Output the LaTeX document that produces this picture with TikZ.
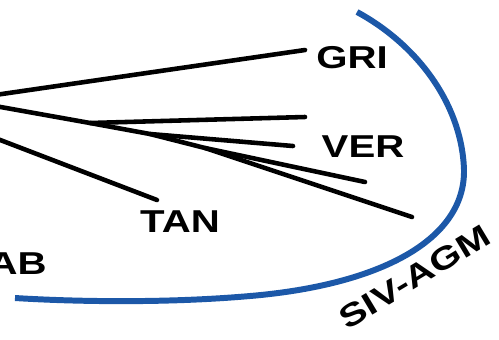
\documentclass[tikz,border=0pt]{standalone}
\usepackage{fontspec}
\setmainfont{Liberation Sans}
\definecolor{cladeblue}{RGB}{28,88,168}

\begin{document}
\begin{tikzpicture}[x=0.02cm,y=-0.02cm,
		branch/.style={line width=2.6pt,line cap=round},
		clade/.style={line width=3.4pt,draw=cladeblue},
		taxon/.style={font=\fontsize{18}{20}\selectfont\bfseries,inner sep=0pt,xscale=1.27}]
		\useasboundingbox (0,0) rectangle (499,339);
		\clip (0,0) rectangle (499,339);
		% tree
		\coordinate (gri0) at (-5,95);
		\coordinate (gri1) at (305,50);
		\coordinate (root) at (-5,106);
		\coordinate (n1) at (90,123);
		\coordinate (n2) at (150,134);
		\coordinate (n3) at (205,148);
		\coordinate (ver1) at (305,117);
		\coordinate (ver2) at (293,146);
		\coordinate (ver3) at (365,182);
		\coordinate (ver4) at (412,217);
		\coordinate (tan0) at (-5,138);
		\coordinate (tan1) at (157,200);
		\draw[branch] (gri0) -- (gri1);
		\draw[branch] (root) -- (n1) -- (n2) -- (n3) -- (ver4);
		\draw[branch] (n1) -- (ver1);
		\draw[branch] (n2) -- (ver2);
		\draw[branch] (n3) -- (ver3);
		\draw[branch] (tan0) -- (tan1);
		% labels
		\node[taxon] (gri) at (352,58) {GRI};
		\node[taxon] (ver) at (363,147) {VER};
		\node[taxon] (tan) at (180,222) {TAN};
		\node[taxon,anchor=east] (ab) at (47,264) {AB};
		% clade bracket
		\draw[clade] (357,12) .. controls (418,45) and (462,105) .. (464,170)
			.. controls (465,240) and (380,285) .. (250,296)
			.. controls (170,303) and (80,302) .. (15,298);
		\node[rotate=31,taxon] (siv) at (415,277) {SIV-AGM};
\end{tikzpicture}
\end{document}
